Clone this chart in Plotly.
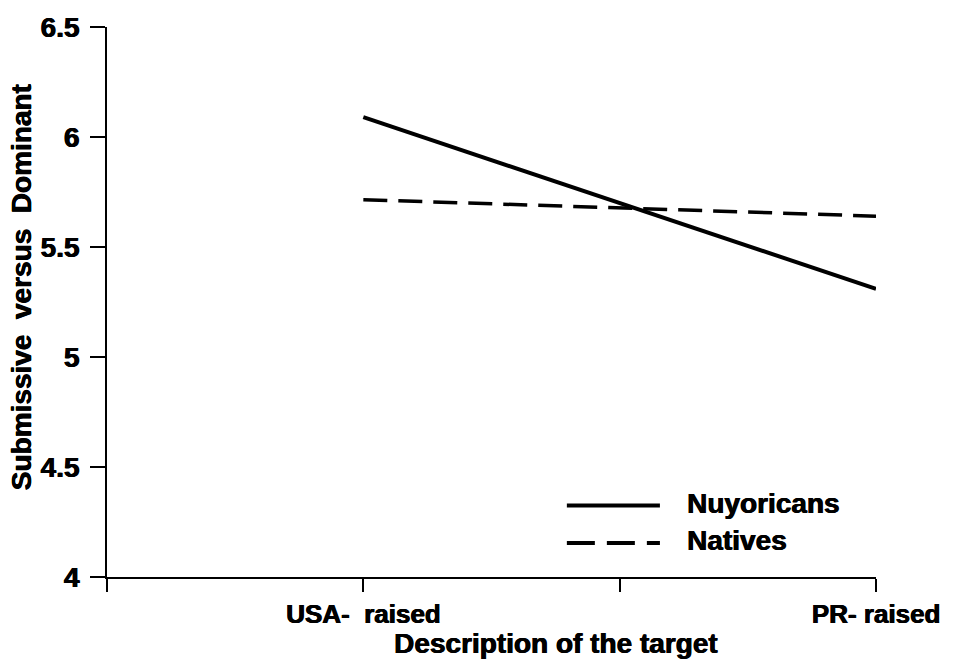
import plotly.graph_objects as go

# Mean ratings by target description (x positions on a 0-3 axis)
target_pos = [1, 3]
tick_vals_x = [0, 1, 2, 3]
tick_text_x = ["", "USA-  raised", "", "PR- raised"]

nuyoricans = [6.09, 5.31]
natives = [5.715, 5.64]

tick_vals_y = [4, 4.5, 5, 5.5, 6, 6.5]
tick_text_y = ["4", "4.5", "5", "5.5", "6", "6.5"]

FONT = "Liberation Sans, Arial, sans-serif"
HEAVY = "0.6px 0 0 black, -0.3px 0 0 black"
X_TICK_FONT = dict(family=FONT, size=26, color="black", weight="bold", shadow=HEAVY)
Y_TICK_FONT = dict(family=FONT, size=28, color="black", weight="bold", shadow=HEAVY)
TEXT_FONT = dict(family=FONT, size=28, color="black", weight="bold", shadow=HEAVY)

fig = go.Figure()
fig.add_trace(go.Scatter(
    x=target_pos, y=nuyoricans, mode="lines", name="Nuyoricans",
    line=dict(color="black", width=4), showlegend=False,
))
fig.add_trace(go.Scatter(
    x=target_pos, y=natives, mode="lines", name="Natives",
    line=dict(color="black", width=3.5, dash="24px,11px"), showlegend=False,
))

# Hand-built key in the lower right of the plot area
key = [("Nuyoricans", "solid", 0.130), ("Natives", "28px,12px", 0.062)]
for label, dash, yy in key:
    fig.add_shape(type="line", xref="paper", yref="paper",
                  x0=0.598, x1=0.719, y0=yy, y1=yy,
                  line=dict(color="black", width=4, dash=dash))
    fig.add_annotation(xref="paper", yref="paper", x=0.751, y=yy + 0.004,
                       text=label, showarrow=False,
                       xanchor="left", yanchor="middle", font=TEXT_FONT)

fig.add_annotation(xref="paper", yref="paper", x=0.584, y=-0.121,
                   text="Description of the target", showarrow=False,
                   xanchor="center", yanchor="middle", font=TEXT_FONT)
fig.add_annotation(xref="paper", yref="paper", x=-0.111, y=0.526,
                   text="Submissive  versus  Dominant", showarrow=False,
                   textangle=-90, xanchor="center", yanchor="middle", font=TEXT_FONT)

fig.update_xaxes(
    range=[0, 3], tickvals=tick_vals_x, ticktext=tick_text_x,
    showline=True, linecolor="black", linewidth=2,
    ticks="outside", ticklen=13, tickwidth=2, tickcolor="black",
    showgrid=False, zeroline=False, tickfont=X_TICK_FONT,
)
fig.update_yaxes(
    range=[4, 6.5], tickvals=tick_vals_y, ticktext=tick_text_y,
    showline=True, linecolor="black", linewidth=2,
    ticks="outside", ticklen=15, tickwidth=2, tickcolor="black",
    showgrid=False, zeroline=False, tickfont=Y_TICK_FONT,
    ticklabelstandoff=5,
)
fig.update_layout(
    width=956, height=668,
    margin=dict(l=107, r=80, t=22, b=91),
    plot_bgcolor="white", paper_bgcolor="white",
    showlegend=False,
)
fig.write_html("out.html")
